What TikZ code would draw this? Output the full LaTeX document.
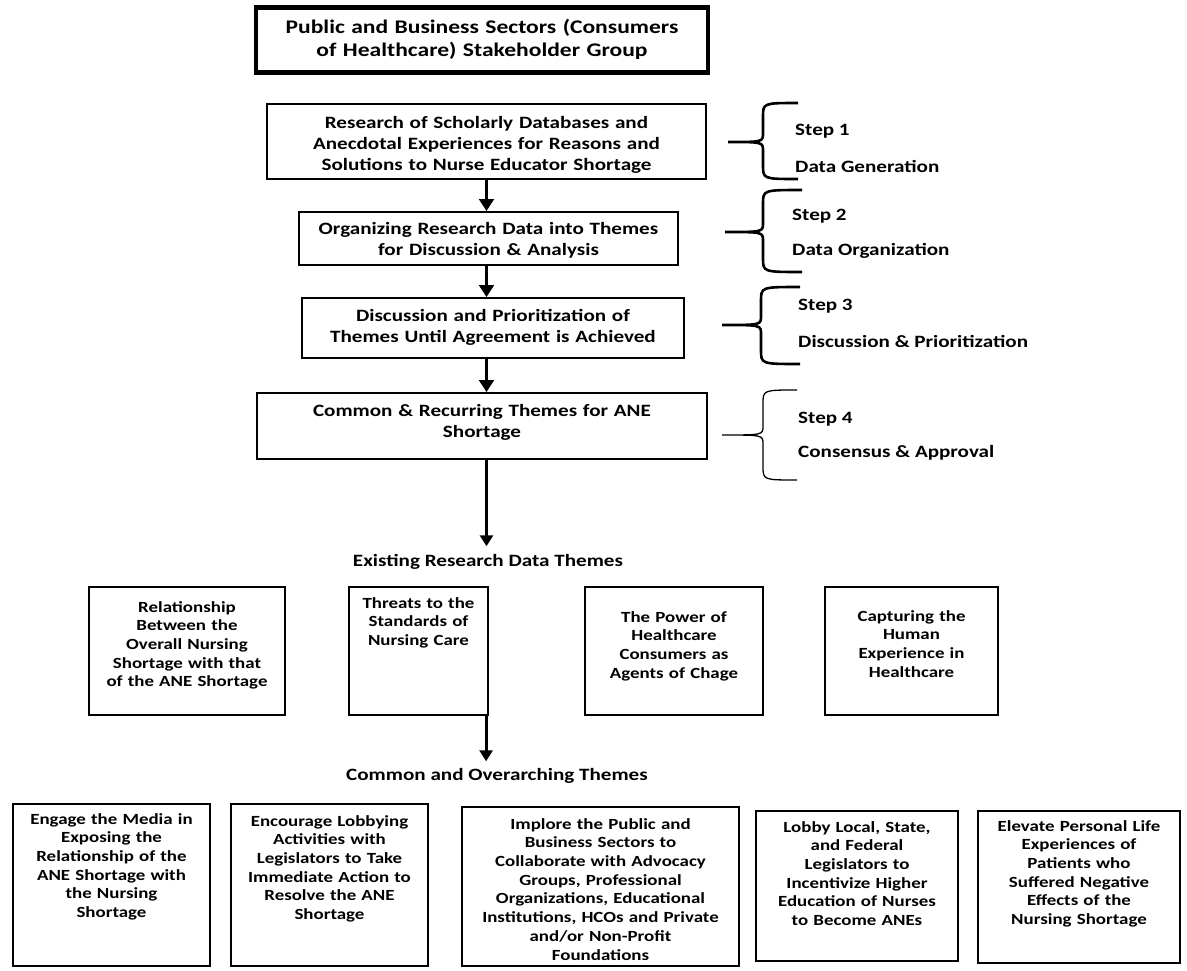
\documentclass[tikz,border=0pt]{standalone}
\usepackage{fontspec}
\setmainfont{Carlito}[FakeStretch=1.22]
\usetikzlibrary{arrows.meta}

\tikzset{
  box/.style={draw, line width=2.2pt, anchor=north, align=center, inner xsep=2pt, inner ysep=0pt},
  big/.style={font=\bfseries\fontsize{17.3}{21}\selectfont},
  small/.style={font=\bfseries\fontsize{15.5}{18.7}\selectfont},
  arr/.style={-{Triangle[width=15pt,length=12pt]}, line width=2.2pt},
}

\begin{document}
\begin{tikzpicture}[x=1pt, y=-1pt]
 \useasboundingbox (0,0) rectangle (1187,970);
 % stakeholder group and the four steps
 \node[box, line width=4.5pt, font=\bfseries\fontsize{19.3}{23}\selectfont, text width=448pt, text height=26pt, text depth=39pt] (grp) at (482,5) {Public and Business Sectors (Consumers\\of Healthcare) Stakeholder Group};
 \node[box, big, text width=435pt, text height=24pt, text depth=51pt] (res) at (486.5,103) {Research of Scholarly Databases and\\Anecdotal Experiences for Reasons and\\Solutions to Nurse Educator Shortage};
 \node[box, big, text width=375pt, text height=22pt, text depth=31pt] (org) at (488.5,211) {Organizing Research Data into Themes\\for Discussion \& Analysis};
 \node[box, big, text width=378pt, text height=23pt, text depth=37pt] (disc) at (493,297) {Discussion and Prioritization of\\Themes Until Agreement is Achieved};
 \node[box, big, text width=446pt, text height=23pt, text depth=43pt] (com) at (482,392) {Common \& Recurring Themes for ANE\\Shortage};

 \draw[arr] (res.south) -- (res.south |- org.north);
 \draw[arr] (res.south |- org.south) -- (res.south |- disc.north);
 \draw[arr] (res.south |- disc.south) -- (res.south |- com.north);

 % braces
 \foreach \xt/\xs/\xe/\ya/\yt/\yb/\lw in {728/763/798/103/142/179/2.6, 725/763/802/190/232/272/2.6, 722/761/800/287/325/364/2.6, 722/763/797/390/435/480/1.3}
 {
     \draw[line width=\lw pt] (\xe,\ya) .. controls (\xs,\ya) .. (\xs,\ya+14) -- (\xs,\yt-9) .. controls (\xs,\yt) .. (\xt,\yt) .. controls (\xs,\yt) .. (\xs,\yt+9) -- (\xs,\yb-14) .. controls (\xs,\yb) .. (\xe,\yb);
 }
 \node[big, anchor=west, inner sep=0pt] (step1) at (795,131) {Step 1};
 \node[big, anchor=west, inner sep=0pt] (gen) at (795,166) {Data Generation};
 \node[big, anchor=west, inner sep=0pt] (step2) at (792,216) {Step 2};
 \node[big, anchor=west, inner sep=0pt] (orga) at (792,251) {Data Organization};
 \node[big, anchor=west, inner sep=0pt] (step3) at (798,306) {Step 3};
 \node[big, anchor=west, inner sep=0pt] (prio) at (798,341) {Discussion \& Prioritization};
 \node[big, anchor=west, inner sep=0pt] (step4) at (798,419) {Step 4};
 \node[big, anchor=west, inner sep=0pt] (cons) at (798,453) {Consensus \& Approval};

 % existing research data themes
 \node[big, inner sep=0pt] (ex) at (488,562) {Existing Research Data Themes};
 \draw[-{Triangle[width=13pt,length=11pt]}, line width=3.6pt, shorten >=8pt] (res.south |- com.south) -- (res.south |- ex.north);

 \node[box, small, text width=192pt, text height=25pt, text depth=103pt] (rel) at (187,586) {Relationship\\Between the\\Overall Nursing\\Shortage with that\\of the ANE Shortage};
 \node[box, small, text width=135pt, text height=21pt, text depth=107pt] (thr) at (418.5,586) {Threats to the\\Standards of\\Nursing Care};
 \node[box, small, text width=174pt, text height=35pt, text depth=93pt] (pow) at (674,586) {The Power of\\Healthcare\\Consumers as\\Agents of Chage};
 \node[box, small, text width=169pt, text height=34pt, text depth=94pt] (hum) at (911.5,586) {Capturing the\\Human\\Experience in\\Healthcare};

 % common and overarching themes
 \node[big, inner sep=0pt] (ov) at (497,776) {Common and Overarching Themes};
 \draw[-{Triangle[width=13pt,length=11pt]}, line width=2.8pt, shorten >=7pt] ([xshift=-3pt]thr.south east) -- ([xshift=-3pt]thr.south east |- ov.north);

 \node[box, small, text width=193pt, text height=20pt, text depth=142pt] (media) at (111.5,803) {Engage the Media in\\Exposing the\\Relationship of the\\ANE Shortage with\\the Nursing\\Shortage};
 \node[box, small, text width=193pt, text height=22pt, text depth=140pt] (lobb) at (329.5,803) {Encourage Lobbying\\Activities with\\Legislators to Take\\Immediate Action to\\Resolve the ANE\\Shortage};
 \node[box, small, text width=273pt, text height=22pt, text depth=137pt] (impl) at (600.5,806) {Implore the Public and\\Business Sectors to\\Collaborate with Advocacy\\Groups, Professional\\Organizations, Educational\\Institutions, HCOs and Private\\and/or Non-Profit\\Foundations};
 \node[box, small, text width=198pt, text height=21pt, text depth=129pt] (loc) at (857,810) {Lobby Local, State,\\and Federal\\Legislators to\\Incentivize Higher\\Education of Nurses\\to Become ANEs};
 \node[box, small, text width=198pt, text height=20pt, text depth=132pt] (elev) at (1079,810) {Elevate Personal Life\\Experiences of\\Patients who\\Suffered Negative\\Effects of the\\Nursing Shortage};
\end{tikzpicture}
\end{document}
